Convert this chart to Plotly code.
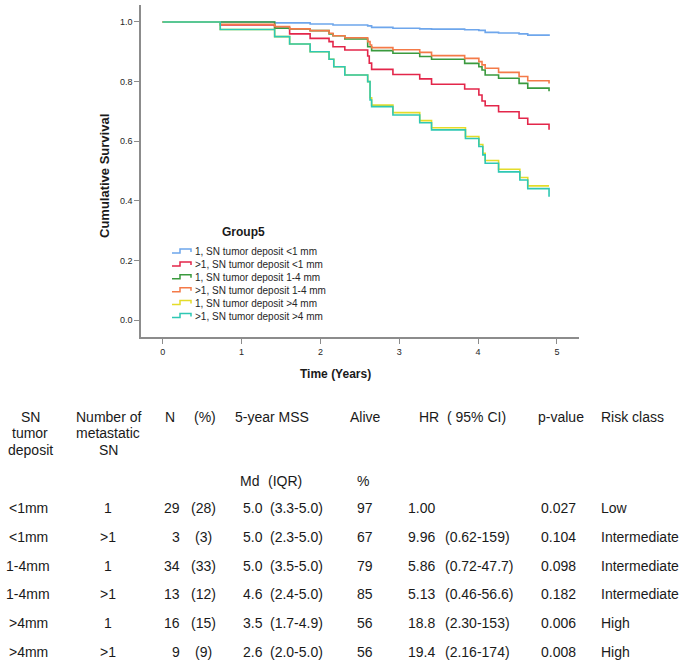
import plotly.graph_objects as go

# ---- Kaplan-Meier curves (Group5) ----
group_names = [
    '1, SN tumor deposit <1 mm',
    '>1, SN tumor deposit <1 mm',
    '1, SN tumor deposit 1-4 mm',
    '>1, SN tumor deposit 1-4 mm',
    '1, SN tumor deposit >4 mm',
    '>1, SN tumor deposit >4 mm',
]

t_lt1_one = [0, 1.42, 1.87, 2.16, 2.60, 2.65, 2.92, 3.26, 3.41, 3.83, 4.01, 4.09, 4.26, 4.52, 4.63, 4.91]
s_lt1_one = [1.0, 0.997, 0.993, 0.990, 0.987, 0.982, 0.979, 0.977, 0.976, 0.974, 0.972, 0.965, 0.963, 0.960, 0.956, 0.956]

t_lt1_multi = [0, 0.73, 1.42, 1.61, 1.87, 2.11, 2.16, 2.31, 2.60, 2.62, 2.65, 2.92, 3.26, 3.41, 3.83, 4.01, 4.05, 4.09, 4.26, 4.52, 4.63, 4.90]
s_lt1_multi = [1.0, 0.990, 0.979, 0.960, 0.945, 0.934, 0.917, 0.906, 0.886, 0.862, 0.841, 0.824, 0.809, 0.791, 0.775, 0.755, 0.735, 0.719, 0.699, 0.677, 0.657, 0.638]

t_mid_one = [0, 1.42, 1.61, 1.87, 2.11, 2.16, 2.31, 2.60, 2.65, 2.92, 3.26, 3.41, 3.83, 4.01, 4.05, 4.09, 4.26, 4.52, 4.63, 4.90]
s_mid_one = [1.0, 0.979, 0.977, 0.971, 0.960, 0.954, 0.943, 0.917, 0.904, 0.895, 0.884, 0.875, 0.861, 0.850, 0.839, 0.822, 0.811, 0.794, 0.778, 0.768]

t_mid_multi = [0, 0.73, 1.42, 1.61, 1.87, 2.11, 2.16, 2.31, 2.60, 2.63, 2.65, 2.92, 3.26, 3.41, 3.83, 4.01, 4.05, 4.09, 4.26, 4.52, 4.63, 4.90]
s_mid_multi = [1.0, 0.992, 0.985, 0.977, 0.971, 0.962, 0.954, 0.947, 0.934, 0.923, 0.914, 0.907, 0.898, 0.887, 0.878, 0.867, 0.856, 0.845, 0.831, 0.817, 0.803, 0.794]

t_gt4_one = [0, 0.73, 1.42, 1.61, 1.87, 2.11, 2.17, 2.31, 2.60, 2.63, 2.65, 2.92, 3.26, 3.41, 3.84, 4.01, 4.06, 4.09, 4.26, 4.53, 4.63, 4.90]
s_gt4_one = [1.0, 0.975, 0.951, 0.926, 0.900, 0.875, 0.850, 0.822, 0.800, 0.746, 0.721, 0.696, 0.669, 0.645, 0.616, 0.589, 0.559, 0.535, 0.506, 0.478, 0.450, 0.450]

t_gt4_multi = [0, 0.73, 1.42, 1.61, 1.87, 2.11, 2.17, 2.31, 2.60, 2.63, 2.65, 2.92, 3.26, 3.41, 3.84, 4.01, 4.06, 4.09, 4.26, 4.53, 4.63, 4.90]
s_gt4_multi = [1.0, 0.975, 0.951, 0.926, 0.900, 0.875, 0.850, 0.822, 0.800, 0.738, 0.716, 0.688, 0.662, 0.638, 0.609, 0.582, 0.554, 0.526, 0.497, 0.470, 0.441, 0.414]

group_colors = ['#6ea6ec', '#e3264a', '#3a9a3e', '#f47a48', '#e4dc2a', '#2ec8b4']

x_ticks = [0, 1, 2, 3, 4, 5]
y_ticks = [0.0, 0.2, 0.4, 0.6, 0.8, 1.0]

# ---- table below the plot ----
deposit = ['<1mm', '<1mm', '1-4mm', '1-4mm', '>4mm', '>4mm']
n_meta_sn = ['1', '>1', '1', '>1', '1', '>1']
n_pat = ['29', '3', '34', '13', '16', '9']
n_pct = ['(28)', '(3)', '(33)', '(12)', '(15)', '(9)']
mss_md = ['5.0', '5.0', '5.0', '4.6', '3.5', '2.6']
mss_iqr = ['(3.3-5.0)', '(2.3-5.0)', '(3.5-5.0)', '(2.4-5.0)', '(1.7-4.9)', '(2.0-5.0)']
alive_pct = ['97', '67', '79', '85', '56', '56']
hr = ['1.00', '9.96', '5.86', '5.13', '18.8', '19.4']
hr_ci = ['', '(0.62-159)', '(0.72-47.7)', '(0.46-56.6)', '(2.30-153)', '(2.16-174)']
p_value = ['0.027', '0.104', '0.098', '0.182', '0.006', '0.008']
risk_class = ['Low', 'Intermediate', 'Intermediate', 'Intermediate', 'High', 'High']

W, H = 685, 664
PL, PR, PT, PB = 141, 579, 5, 337   # plot area in pixels
FONT = 'Arial, Liberation Sans, sans-serif'
TXT = '#1a1a1a'


def px(x):
    return (x - PL) / (PR - PL)


def py(y):
    return (PB - y) / (PB - PT)


fig = go.Figure()

series = [
    (t_lt1_one, s_lt1_one),
    (t_lt1_multi, s_lt1_multi),
    (t_mid_one, s_mid_one),
    (t_mid_multi, s_mid_multi),
    (t_gt4_one, s_gt4_one),
    (t_gt4_multi, s_gt4_multi),
]
for (t, s), name, color in zip(series, group_names, group_colors):
    fig.add_trace(go.Scatter(
        x=t, y=s, mode='lines', name=name,
        line=dict(color=color, width=1.6, shape='hv'),
        showlegend=False
    ))

annotations = []
shapes = []

# legend drawn by hand (SPSS style step glyphs)
annotations.append(dict(
    text='<b>Group5</b>', x=px(243), y=py(232), xref='paper', yref='paper',
    xanchor='center', yanchor='middle', showarrow=False,
    font=dict(family=FONT, size=12, color=TXT)
))
for i, (name, color) in enumerate(zip(group_names, group_colors)):
    yc = 251.5 + i * 12.9
    path = 'M {} {} L {} {} L {} {} L {} {} L {} {}'.format(
        px(172), py(yc + 1.5), px(180), py(yc + 1.5), px(180), py(yc - 2.5),
        px(191), py(yc - 2.5), px(191), py(yc + 0.5))
    shapes.append(dict(type='path', path=path, xref='paper', yref='paper',
                       line=dict(color=color, width=1.5)))
    annotations.append(dict(
        text=name, x=px(193), y=py(yc), xref='paper', yref='paper',
        xanchor='left', yanchor='middle', showarrow=False,
        font=dict(family=FONT, size=10, color='#262626')
    ))

# axis titles
annotations.append(dict(
    text='<b>Cumulative Survival</b>', x=px(104), y=py(176), xref='paper', yref='paper',
    xanchor='center', yanchor='middle', textangle=-90, showarrow=False,
    font=dict(family=FONT, size=13, color=TXT)
))
annotations.append(dict(
    text='<b>Time (Years)</b>', x=px(335), y=py(374), xref='paper', yref='paper',
    xanchor='center', yanchor='middle', showarrow=False,
    font=dict(family=FONT, size=12, color=TXT)
))


def table_text(text, x, y, anchor='center'):
    annotations.append(dict(
        text=text, x=px(x), y=py(y), xref='paper', yref='paper',
        xanchor=anchor, yanchor='middle', showarrow=False,
        font=dict(family=FONT, size=14, color=TXT)
    ))


# table header
header_rows = [416.7, 433, 449.5]
for line, yy in zip(['SN', 'tumor', 'deposit'], header_rows):
    table_text(line, 30, yy)
for line, yy in zip(['Number of', 'metastatic', 'SN'], header_rows):
    table_text(line, 108, yy)
table_text('N', 170, 416.7)
table_text('(%)', 205, 416.7)
table_text('5-year MSS', 272, 416.7)
table_text('Alive', 365, 416.7)
table_text('HR  ( 95% CI)', 417, 416.7, 'left')
table_text('p-value', 561, 416.7)
table_text('Risk class', 632, 416.7)
table_text('Md', 249.5, 481)
table_text('(IQR)', 285, 481)
table_text('%', 363, 481)

# table rows
for i in range(len(deposit)):
    yy = 508.3 + i * 28.7
    table_text(deposit[i], 28, yy)
    table_text(n_meta_sn[i], 108, yy)
    table_text(n_pat[i], 181.7, yy, 'right')
    table_text(n_pct[i], 203, yy)
    table_text(mss_md[i], 252.5, yy)
    table_text(mss_iqr[i], 296, yy)
    table_text(alive_pct[i], 365, yy)
    table_text(hr[i], 421.7, yy)
    if hr_ci[i]:
        table_text(hr_ci[i], 443, yy, 'left')
    table_text(p_value[i], 558, yy)
    table_text(risk_class[i], 599, yy, 'left')

x0 = -0.275
x1 = 5.28
y0 = -0.057
y1 = 1.057

fig.update_layout(
    width=W, height=H,
    margin=dict(l=PL, r=W - PR, t=PT, b=H - PB, pad=0),
    paper_bgcolor='white', plot_bgcolor='white',
    showlegend=False,
    annotations=annotations,
    shapes=shapes,
    xaxis=dict(
        range=[x0, x1], tickvals=x_ticks, ticktext=[str(v) for v in x_ticks],
        showgrid=False, zeroline=False, showline=True, linecolor='#8c8c8c', linewidth=1.5,
        ticks='outside', ticklen=5, tickcolor='#8c8c8c', tickwidth=1,
        tickfont=dict(family=FONT, size=9, color='#262626')
    ),
    yaxis=dict(
        range=[y0, y1], tickvals=y_ticks, ticktext=['{:.1f}'.format(v) for v in y_ticks],
        showgrid=False, zeroline=False, showline=True, linecolor='#8c8c8c', linewidth=1.5,
        ticks='outside', ticklen=5, tickcolor='#8c8c8c', tickwidth=1,
        tickfont=dict(family=FONT, size=9, color='#262626')
    ),
)

fig.write_html("out.html", config={'displayModeBar': False},
               post_script="document.body.style.margin='0';")
